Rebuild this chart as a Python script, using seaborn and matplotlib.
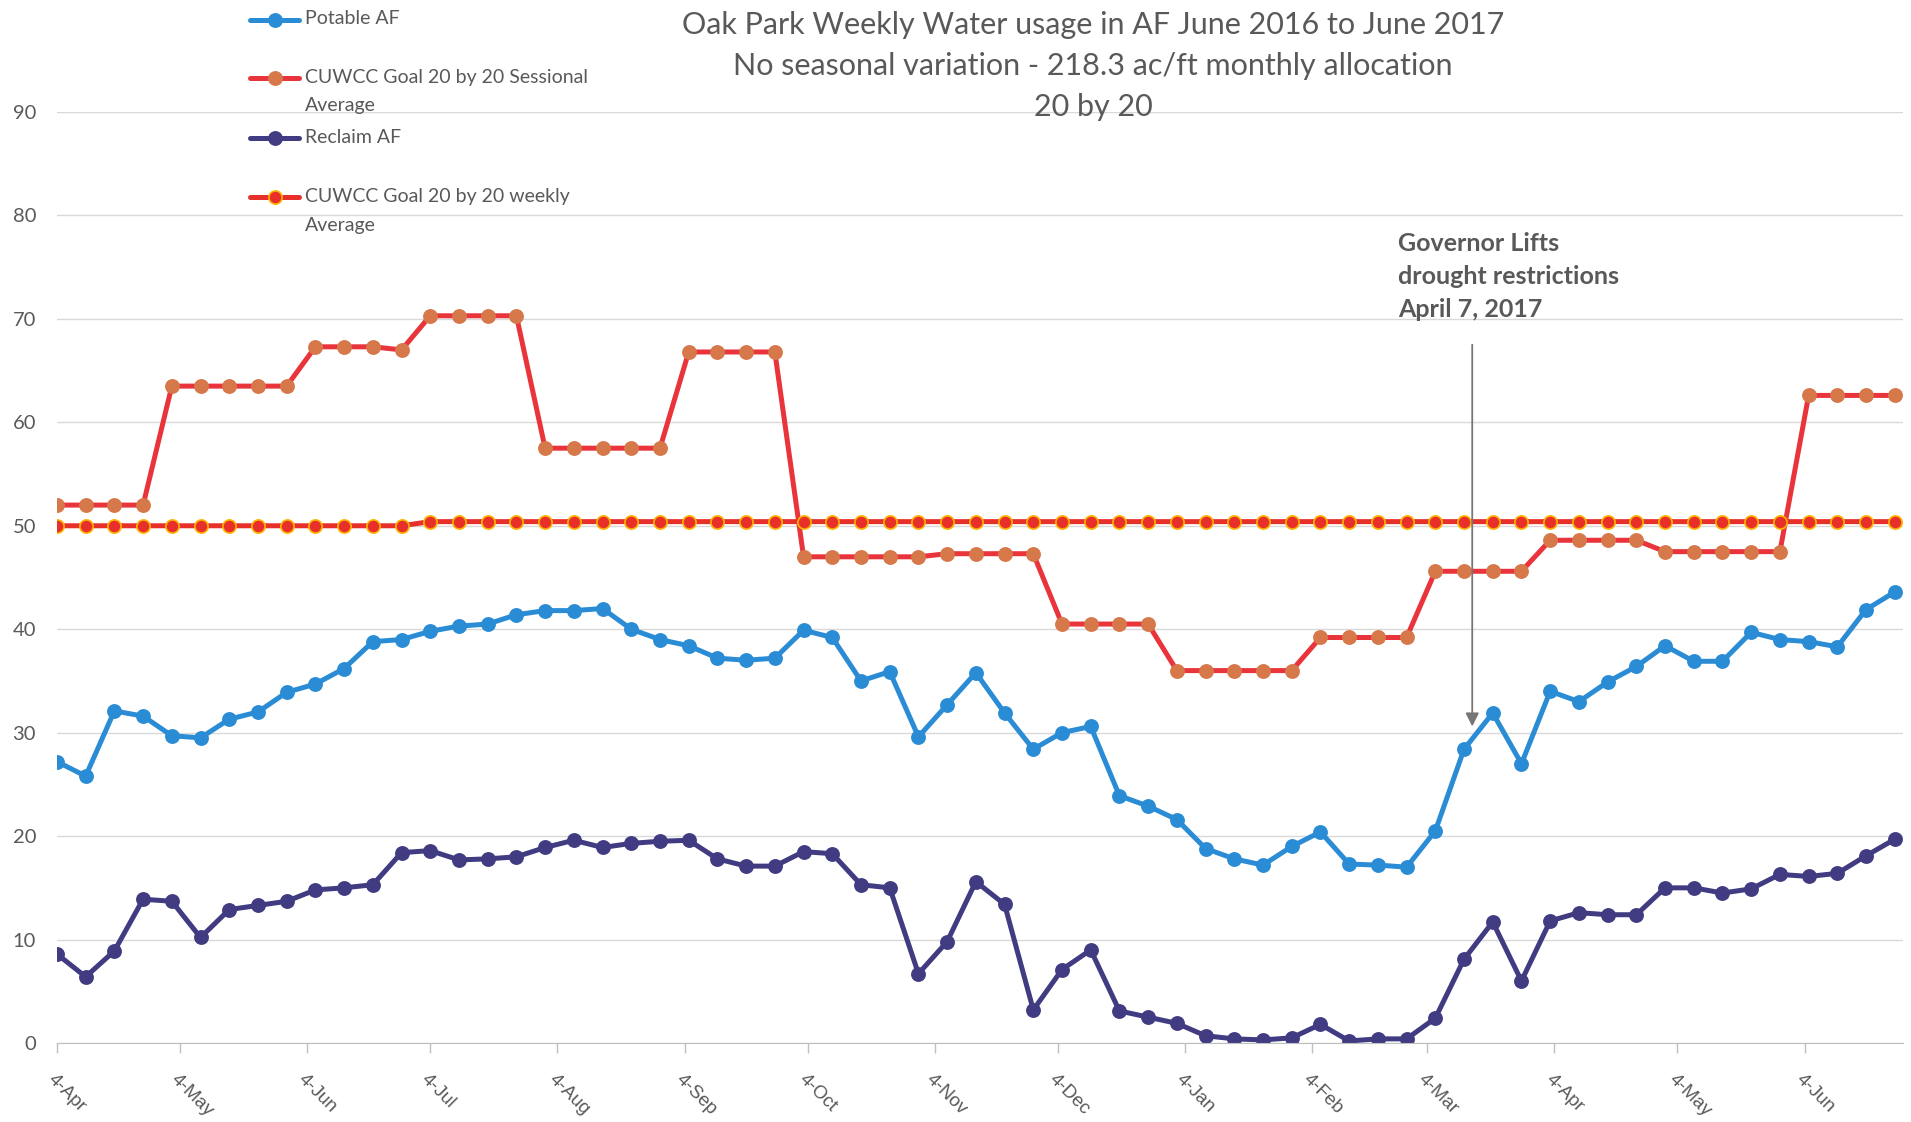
import pandas as pd
import numpy as np
import seaborn as sns
import matplotlib.pyplot as plt
from matplotlib.lines import Line2D

# Semanas (lunes) desde 4-Apr-2016
weeks = pd.date_range('2016-04-04', periods=65, freq='7D')

potable = [27.2, 25.8, 32.1, 31.6, 29.7, 29.5, 31.3, 32.0, 33.9, 34.7,
           36.2, 38.8, 39.0, 39.8, 40.3, 40.5, 41.4, 41.8, 41.8, 42.0,
           40.0, 39.0, 38.4, 37.2, 37.0, 37.2, 39.9, 39.2, 35.0, 35.9,
           29.6, 32.7, 35.8, 31.9, 28.4, 30.0, 30.6, 23.9, 22.9, 21.6,
           18.8, 17.8, 17.2, 19.0, 20.4, 17.3, 17.2, 17.0, 20.5, 28.4,
           31.9, 27.0, 34.0, 33.0, 34.9, 36.4, 38.4, 36.9, 36.9, 39.7,
           39.0, 38.8, 38.3, 41.9, 43.6]

sessional = [52.0, 52.0, 52.0, 52.0, 63.5, 63.5, 63.5, 63.5, 63.5, 67.3,
             67.3, 67.3, 67.0, 70.3, 70.3, 70.3, 70.3, 57.5, 57.5, 57.5,
             57.5, 57.5, 66.8, 66.8, 66.8, 66.8, 47.0, 47.0, 47.0, 47.0,
             47.0, 47.3, 47.3, 47.3, 47.3, 40.5, 40.5, 40.5, 40.5, 36.0,
             36.0, 36.0, 36.0, 36.0, 39.2, 39.2, 39.2, 39.2, 45.6, 45.6,
             45.6, 45.6, 48.6, 48.6, 48.6, 48.6, 47.5, 47.5, 47.5, 47.5,
             47.5, 62.6, 62.6, 62.6, 62.6]

reclaim = [8.6, 6.4, 8.9, 13.9, 13.7, 10.2, 12.9, 13.3, 13.7, 14.8,
           15.0, 15.3, 18.4, 18.6, 17.7, 17.8, 18.0, 18.9, 19.6, 18.9,
           19.3, 19.5, 19.6, 17.8, 17.1, 17.1, 18.5, 18.3, 15.3, 15.0,
           6.7, 9.8, 15.6, 13.4, 3.2, 7.1, 9.0, 3.1, 2.5, 1.9,
           0.7, 0.4, 0.3, 0.5, 1.8, 0.2, 0.4, 0.4, 2.4, 8.1,
           11.7, 6.0, 11.8, 12.6, 12.4, 12.4, 15.0, 15.0, 14.5, 14.9,
           16.3, 16.1, 16.4, 18.1, 19.7]

weekly = [50.0, 50.0, 50.0, 50.0, 50.0, 50.0, 50.0, 50.0, 50.0, 50.0,
          50.0, 50.0, 50.0, 50.4, 50.4, 50.4, 50.4, 50.4, 50.4, 50.4,
          50.4, 50.4, 50.4, 50.4, 50.4, 50.4, 50.4, 50.4, 50.4, 50.4,
          50.4, 50.4, 50.4, 50.4, 50.4, 50.4, 50.4, 50.4, 50.4, 50.4,
          50.4, 50.4, 50.4, 50.4, 50.4, 50.4, 50.4, 50.4, 50.4, 50.4,
          50.4, 50.4, 50.4, 50.4, 50.4, 50.4, 50.4, 50.4, 50.4, 50.4,
          50.4, 50.4, 50.4, 50.4, 50.4]

tick_dates = ['2016-04-04', '2016-05-04', '2016-06-04', '2016-07-04', '2016-08-04',
              '2016-09-04', '2016-10-04', '2016-11-04', '2016-12-04', '2017-01-04',
              '2017-02-04', '2017-03-04', '2017-04-04', '2017-05-04', '2017-06-04']
tick_labels = ['4-Apr', '4-May', '4-Jun', '4-Jul', '4-Aug', '4-Sep', '4-Oct', '4-Nov',
               '4-Dec', '4-Jan', '4-Feb', '4-Mar', '4-Apr', '4-May', '4-Jun']

GRIS = '#595959'

# estilos de cada serie (linea, relleno del marcador, borde del marcador)
estilos = [
    ('Potable AF', potable, '#2b8cd6', '#2b8cd6', '#2b8cd6'),
    ('CUWCC Goal 20 by 20 Sessional\nAverage', sessional, '#e8343a', '#d6784a', '#d6784a'),
    ('Reclaim AF', reclaim, '#413b82', '#413b82', '#413b82'),
    ('CUWCC Goal 20 by 20 weekly\nAverage', weekly, '#e8302a', '#e8302a', '#ffb400'),
]

sns.set_style('white')
plt.rcParams['font.family'] = ['Lato', 'DejaVu Sans']

fig = plt.figure(figsize=(19.11, 11.22), dpi=100)
ax = fig.add_axes([0.0298, 0.0704, 0.966, 0.8298])

for nombre, valores, c_linea, c_relleno, c_borde in estilos:
    sns.lineplot(x=weeks, y=valores, ax=ax, color=c_linea, lw=3.6,
                 marker='o', markersize=9.5, markerfacecolor=c_relleno,
                 markeredgecolor=c_borde, markeredgewidth=1.2, legend=False)

ax.set_ylim(0, 90)
ax.set_yticks(range(0, 91, 10))
ax.set_xlim(pd.Timestamp('2016-04-04'), pd.Timestamp('2017-06-28'))
ax.set_xticks(pd.to_datetime(tick_dates))
ax.set_xticklabels(tick_labels, rotation=-45, ha='left', va='top',
                   rotation_mode='anchor', fontsize=13.5, color=GRIS,
                   family='Liberation Sans')
ax.tick_params(axis='x', length=7, width=1, color='#bfbfbf', pad=13, bottom=True)
ax.tick_params(axis='y', length=0, pad=15, labelsize=14.5, labelcolor=GRIS)
ax.set_xlabel('')
ax.set_ylabel('')

ax.yaxis.grid(True, color='#d9d9d9', lw=1.0)
ax.set_axisbelow(True)
for lado in ['left', 'right', 'top']:
    ax.spines[lado].set_visible(False)
ax.spines['bottom'].set_color('#bfbfbf')

# Anotacion
fecha_flecha = pd.Timestamp('2017-03-15')
ax.annotate('', xy=(fecha_flecha, 30.6), xytext=(fecha_flecha, 67.5),
            arrowprops=dict(arrowstyle='-|>', color='#767676', lw=1.3,
                            mutation_scale=20, shrinkA=0, shrinkB=0))
ax.text(pd.Timestamp('2017-02-25'), 78.4, 'Governor Lifts\ndrought restrictions\nApril 7, 2017',
        fontsize=18, fontweight='bold', color=GRIS, ha='left', va='top', linespacing=1.52)

# Titulo
fig.text(0.572, 0.99, 'Oak Park Weekly Water usage in AF June 2016 to June 2017\n'
         'No seasonal variation - 218.3 ac/ft monthly allocation\n20 by 20',
         ha='center', va='top', fontsize=22, color=GRIS, linespacing=1.55)

# Leyenda manual
W, H = 1911, 1122
posiciones_y = [19.5, 78, 137.7, 197.4]
for (nombre, valores, c_linea, c_relleno, c_borde), y in zip(estilos, posiciones_y):
    fy = 1 - y / H
    fig.add_artist(Line2D([250 / W, 299 / W], [fy, fy], transform=fig.transFigure,
                          color=c_linea, lw=3.6))
    fig.add_artist(Line2D([275 / W], [fy], transform=fig.transFigure, marker='o',
                          markersize=9.5, markerfacecolor=c_relleno,
                          markeredgecolor=c_borde, markeredgewidth=1.2, lw=0))
    fig.text(305 / W, 1 - (y - 9) / H, nombre, ha='left', va='top', fontsize=14,
             color=GRIS, linespacing=1.8)

plt.savefig('out.png', dpi=100)
plt.close()
